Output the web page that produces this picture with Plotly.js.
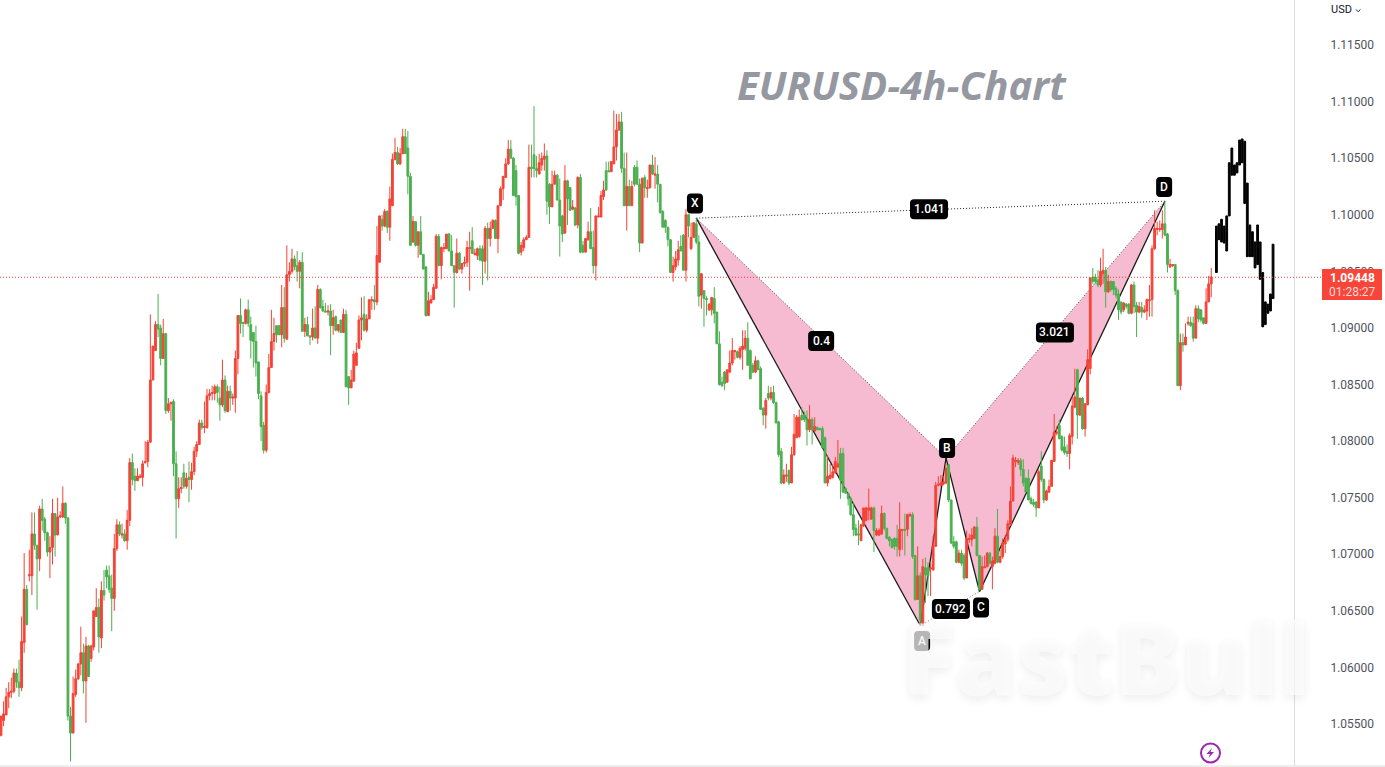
<!DOCTYPE html>
<html>
<head>
<meta charset="utf-8">
<script src="https://cdn.plot.ly/plotly-3.0.1.min.js"></script>
<style>html,body{margin:0;padding:0;background:#fff;overflow:hidden}#c{width:1385px;height:767px}</style>
</head>
<body>
<div id="c"></div>
<script>
// Prices in units of 0.0001 (EURUSD 4h, one entry per bar)
const opens = [
10540,10553,10558,10574,10578,10579,10595,10587,10582,10622,
10669,10681,10681,10718,10708,10696,10740,10731,10719,10702,
10706,10736,10717,10733,10733,10745,10732,10557,10542,10576,
10590,10603,10613,10588,10619,10608,10618,10645,10653,10626,
10668,10686,10681,10670,10661,10705,10726,10717,10718,10712,
10730,10781,10769,10765,10768,10768,10781,10782,
10799,10854,10880,10903,10900,10873,10895,10827,10833,10835,
10780,10749,10758,10772,10760,10768,10766,10773,10791,10797,
10816,10812,10812,10840,10842,10842,10848,10838,10832,10854,
10826,10844,10838,10838,10873,10911,10905,10904,10916,10903,
10896,10888,10870,10840,10814,10792,10843,10865,10888,10902,
10902,10894,10918,10890,10947,10950,10961,10955,10950,10958,
10897,10903,10893,10892,10900,10891,10934,10919,10915,10914,
10915,10902,10910,10898,10907,10896,10912,10857,10847,10853,
10867,10882,10907,10912,10898,10908,10924,10925,10923,10958,
10996,10990,11003,10989,11008,11049,11055,11045,11054,11069,
11059,11034,10976,10994,10973,10985,10965,10954,10911,10922,
10925,10935,10981,10955,10970,10970,10983,10968,10955,10949,
10966,10952,10957,10958,10970,10977,10965,10964,10970,10970,
10959,10988,10979,10988,10995,10979,11008,11023,11033,11045,
11058,11050,11039,11017,10967,10971,10978,10980,11042,11053,
11041,11036,11044,11049,11052,11027,11007,11027,11035,11013,
10999,10984,11030,11024,11005,11006,10991,11033,10973,10967,
10978,10985,10971,10955,10998,10998,11016,11039,11039,11038,
11045,11060,11075,11082,11041,11008,11025,11008,11042,11042,
11027,10975,11033,11023,11024,11044,11035,11036,11027,11003,
10995,10989,10978,10949,10954,10960,10972,10982,10951,11000,
10970,10980,10992,10976,10929,10933,10926,10916,10916,10926,
10914,10886,10852,10861,10852,10861,10869,10879,10879,10874,
10881,10882,10891,10880,10867,10861,10871,10864,10829,10823,
10842,10838,10843,10834,10817,10791,10763,10769,10774,10763,
10788,10803,10804,10823,10823,10820,10810,10819,10809,10812,
10811,10811,10803,10763,10767,10768,10772,10777,10789,10789,
10758,10754,10749,10735,10723,10718,10712,10725,10730,10739,
10731,10741,10717,10717,10718,10736,10723,10715,10713,10714,
10714,10704,10721,10722,10722,10734,10735,10699,10660,10681,
10637,10688,10688,10687,10686,10707,10761,10761,10762,10763,
10779,10748,10711,10711,10693,10701,10699,10679,10713,10713,
10714,10724,10699,10669,10688,10689,10701,10689,10692,10716,
10693,10698,10709,10713,10726,10747,10782,10781,10783,10775,
10767,10767,10749,10746,10746,10741,10778,10766,10748,10755,
10760,10782,10807,10814,10804,10795,10791,10789,10804,10830,
10863,10823,10838,10811,10832,10864,10945,10945,10942,10938,
10948,10951,10932,10941,10941,10935,10930,10923,10916,10921,
10921,10913,10938,10920,10914,10918,10914,10915,10924,10925,
10970,10987,10987,10987,10992,10983,10954,10955,10956,10933,
10849,10887,10885,10904,10905,10904,10891,10917,10916,10909,
10904,10923,10939];
const highs = [
10557,10570,10582,10587,10591,10599,10599,10607,10645,10701,
10673,10704,10737,10737,10708,10743,10749,10733,10720,10716,
10749,10736,10750,10738,10760,10746,10733,10565,10592,10598,
10604,10636,10621,10627,10620,10620,10650,10670,10661,10676,
10686,10690,10690,10682,10718,10731,10729,10727,10722,10739,
10785,10789,10776,10776,10771,10783,10800,10801,
10912,10884,10906,10930,10903,10908,10895,10838,10835,10837,
10791,10768,10768,10780,10772,10782,10781,10795,10800,10819,
10819,10835,10846,10846,10849,10850,10850,10848,10872,10858,
10849,10849,10842,10880,10911,10926,10905,10917,10925,10910,
10896,10902,10870,10844,10817,10850,10877,10916,10909,10902,
10902,10938,10936,10973,10958,10970,10964,10968,10960,10967,
10909,10910,10893,10917,10919,10938,10935,10925,10922,10920,
10921,10916,10911,10903,10907,10917,10916,10857,10863,10880,
10887,10911,10927,10928,10912,10925,10928,10938,10990,10999,
11000,11005,11004,11025,11054,11068,11060,11059,11076,11076,
11074,11037,10999,10994,10985,10999,10965,10954,10932,10929,
10939,10983,10983,10972,10975,10983,10984,10982,10955,10979,
10967,10957,10963,10977,10985,10989,10970,10971,10973,10973,
10990,10993,10994,10996,10996,11008,11025,11034,11050,11066,
11066,11051,11044,11017,10976,10980,10982,11062,11062,11096,
11052,11054,11055,11063,11057,11028,11039,11039,11036,11032,
11000,11044,11031,11024,11013,11007,11034,11036,10977,10979,
10994,11006,10986,10999,11007,11021,11030,11047,11047,11047,
11092,11089,11089,11091,11055,11055,11031,11030,11044,11048,
11032,11033,11035,11031,11044,11053,11051,11044,11027,11004,
10996,10989,10978,10963,10968,10977,10982,10983,11005,11001,
10993,10993,10997,10982,10948,10933,10928,10922,10927,10936,
10914,10897,10857,10862,10863,10880,10891,10880,10880,10884,
10898,10898,10905,10881,10869,10875,10872,10866,10830,10838,
10849,10848,10849,10835,10818,10794,10775,10780,10775,10795,
10824,10823,10828,10830,10826,10827,10832,10821,10821,10813,
10812,10813,10804,10787,10780,10779,10786,10801,10794,10794,
10759,10754,10751,10746,10727,10730,10727,10741,10742,10758,
10742,10742,10723,10723,10743,10737,10723,10716,10714,10715,
10726,10746,10722,10736,10736,10737,10737,10699,10707,10684,
10696,10697,10693,10693,10716,10764,10769,10770,10769,10780,
10780,10748,10716,10712,10704,10704,10701,10721,10718,10723,
10725,10733,10699,10698,10699,10702,10702,10698,10723,10740,
10704,10714,10717,10730,10760,10788,10786,10785,10785,10784,
10768,10775,10751,10749,10747,10775,10791,10767,10757,10766,
10783,10824,10813,10819,10805,10804,10797,10807,10839,10864,
10864,10838,10839,10833,10881,10945,10953,10948,10951,10962,
10970,10954,10947,10942,10941,10937,10934,10923,10923,10922,
10922,10939,10941,10923,10923,10923,10920,10926,10938,10973,
11004,10994,10995,11004,11012,10984,10961,10956,10956,10934,
10895,10895,10904,10910,10910,10910,10920,10920,10916,10909,
10935,10946,10953];
const lows = [
10539,10548,10558,10564,10573,10577,10582,10574,10579,10613,
10637,10676,10664,10704,10651,10685,10721,10712,10698,10679,
10691,10698,10717,10732,10732,10727,10553,10517,10542,10574,
10589,10593,10577,10551,10592,10605,10615,10645,10613,10617,
10659,10670,10666,10632,10650,10703,10716,10714,10711,10704,
10725,10761,10756,10765,10767,10760,10780,10777,
10799,10854,10880,10892,10867,10873,10824,10825,10818,10769,
10714,10741,10754,10758,10758,10746,10757,10770,10786,10797,
10810,10807,10811,10836,10836,10836,10834,10818,10830,10825,
10826,10827,10832,10825,10859,10895,10892,10903,10901,10873,
10865,10857,10837,10800,10789,10790,10842,10865,10880,10887,
10894,10883,10887,10890,10941,10948,10951,10941,10935,10897,
10892,10893,10885,10889,10891,10886,10917,10914,10914,10911,
10876,10894,10897,10896,10896,10896,10848,10832,10847,10853,
10867,10882,10889,10897,10896,10908,10916,10916,10920,10958,
10986,10989,10984,10977,11008,11048,11044,11044,11054,11054,
11018,10973,10975,10972,10962,10965,10952,10910,10911,10922,
10925,10935,10955,10943,10967,10970,10968,10955,10918,10948,
10951,10948,10954,10954,10933,10966,10964,10960,10959,10938,
10948,10942,10972,10988,10979,10966,11008,11013,11033,11044,
11050,11017,11008,10965,10964,10968,10978,10980,11033,11033,
11033,11036,11039,11039,11000,10992,11007,11027,11013,10963,
10976,10983,10991,11004,11004,10990,10988,10966,10966,10967,
10977,10970,10948,10942,10998,10998,11013,11021,11038,11038,
11045,11048,11074,11037,11008,10986,11008,11008,11025,11027,
10967,10975,11015,11015,11023,11035,11023,11011,11001,10989,
10984,10972,10949,10941,10951,10955,10968,10951,10941,10980,
10969,10980,10974,10919,10917,10901,10911,10915,10911,10904,
10886,10849,10848,10845,10852,10860,10867,10872,10873,10872,
10863,10880,10867,10855,10860,10860,10863,10828,10814,10811,
10836,10836,10833,10816,10786,10762,10762,10764,10761,10763,
10787,10803,10803,10818,10817,10796,10808,10797,10808,10810,
10810,10794,10763,10760,10766,10767,10771,10777,10749,10754,
10754,10743,10734,10716,10716,10708,10712,10724,10729,10730,
10731,10702,10716,10716,10717,10721,10713,10707,10705,10704,
10698,10698,10704,10699,10716,10733,10696,10659,10660,10638,
10637,10657,10663,10663,10686,10707,10760,10760,10761,10762,
10746,10709,10705,10692,10692,10690,10677,10679,10710,10707,
10714,10698,10668,10669,10688,10689,10691,10669,10691,10692,
10692,10696,10701,10711,10725,10747,10777,10779,10769,10760,
10755,10748,10744,10742,10733,10741,10764,10745,10747,10754,
10760,10782,10805,10802,10791,10788,10786,10775,10797,10829,
10802,10822,10810,10804,10832,10859,10939,10939,10936,10936,
10939,10918,10931,10932,10929,10926,10907,10912,10914,10917,
10912,10912,10913,10892,10913,10909,10913,10907,10910,10910,
10969,10982,10985,10979,10981,10949,10953,10954,10929,10849,
10845,10879,10885,10902,10901,10888,10891,10905,10905,10903,
10904,10923,10927];
const closes = [
10557,10559,10574,10578,10579,10595,10587,10582,10623,10669,
10638,10682,10718,10708,10696,10740,10730,10719,10702,10706,
10736,10717,10733,10734,10745,10732,10557,10542,10577,10590,
10603,10613,10588,10619,10592,10619,10650,10653,10627,10668,
10664,10680,10669,10661,10705,10726,10718,10718,10712,10730,
10781,10766,10765,10769,10769,10780,10782,10799,
10854,10884,10903,10899,10873,10895,10827,10833,10834,10780,
10749,10758,10759,10760,10767,10766,10773,10791,10797,10816,
10812,10813,10840,10842,10843,10848,10843,10832,10854,10827,
10844,10838,10839,10873,10911,10904,10904,10916,10904,10889,
10888,10869,10842,10813,10792,10843,10865,10888,10895,10894,
10894,10918,10891,10947,10950,10961,10954,10950,10958,10897,
10903,10893,10892,10900,10891,10934,10918,10915,10914,10915,
10902,10909,10898,10903,10896,10912,10848,10847,10854,10877,
10878,10907,10909,10898,10908,10925,10925,10923,10964,10999,
10990,11003,10989,11014,11049,11055,11045,11054,11069,11054,
11034,10973,10994,10973,10985,10965,10952,10911,10924,10925,
10936,10981,10955,10971,10971,10983,10968,10955,10949,10966,
10952,10957,10958,10971,10971,10966,10966,10970,10960,10959,
10988,10979,10988,10995,10979,11008,11023,11034,11045,11058,
11050,11017,11016,10966,10973,10978,10980,11042,11041,11041,
11039,11046,11050,11052,11012,11007,11027,11035,11013,10990,
10983,11030,11014,11004,11007,10991,11033,10967,10967,10979,
10985,10970,10955,10999,10999,11017,11022,11022,11038,11047,
11060,11075,11082,11041,11008,11025,11008,11025,11027,11027,
10975,11032,11024,11024,11044,11036,11036,11027,11002,10989,
10989,10978,10949,10955,10961,10969,10968,10951,11000,10990,
10980,10993,10976,10928,10948,10926,10925,10921,10927,10913,
10886,10850,10849,10851,10863,10869,10880,10880,10874,10882,
10884,10891,10867,10855,10861,10871,10863,10828,10823,10836,
10838,10843,10834,10816,10788,10763,10770,10770,10763,10788,
10806,10821,10821,10819,10819,10810,10819,10810,10813,10810,
10810,10794,10763,10769,10770,10773,10782,10780,10766,10755,
10754,10749,10735,10722,10717,10717,10726,10741,10741,10741,
10741,10721,10721,10721,10736,10723,10714,10712,10706,10707,
10707,10722,10722,10721,10735,10735,10698,10660,10681,10642,
10689,10682,10681,10688,10708,10761,10762,10763,10764,10776,
10748,10710,10707,10693,10701,10692,10679,10714,10714,10717,
10724,10699,10669,10689,10689,10701,10692,10694,10716,10693,
10698,10710,10713,10727,10747,10785,10783,10783,10775,10763,
10755,10748,10745,10744,10741,10773,10766,10748,10756,10760,
10783,10808,10808,10802,10792,10790,10789,10805,10831,10839,
10823,10838,10811,10833,10872,10944,10941,10941,10938,10950,
10951,10932,10941,10934,10934,10929,10916,10914,10922,10919,
10913,10938,10919,10914,10919,10914,10916,10925,10925,10970,
10988,10988,10988,10992,10982,10956,10956,10956,10933,10849,
10887,10885,10892,10905,10902,10891,10917,10908,10907,10904,
10923,10939,10945];

// Black projected bars after the last candle
const ghostStart = 472;
const ghostTops = [10990,10992,10996,10990,10999,11046,11059,11044,11046,11066,11067,11065,11028,10991,10985,10976,10991,10976,10949,10923,10921,10930,10974];
const ghostBottoms = [10949,10978,10976,10975,10968,10999,11035,11035,11037,11044,11046,11010,10963,10963,10963,10953,10956,10943,10901,10903,10913,10915,10926];

// Harmonic pattern pivots X A B C D
const pivotIdx = [270,357,367,380,452];
const pivotPrice = [10997,10637,10785,10667,11012];

// Pattern tags
const tagText = ['X','1.041','0.4','B','0.792','C','A','3.021','D'];
const tagIdx = [269.5,360.4,318.5,367.4,368.9,380.6,357.7,409.3,451.7];
const tagPrice = [11010,11005,10888.5,10794,10651.6,10653,10623.4,10896,11024.5];
const tagWidth = [16,38,26,16,38,16,16,38,16];

const lastPrice = 1.09448;
const countdown = '01:28:27';
const axisTicks = [1.055,1.06,1.065,1.07,1.075,1.08,1.085,1.09,1.095,1.10,1.105,1.11,1.115];

const W = 1385, H = 767, PW = 1294, PH = 766;
const BAR0 = 1, BAR = 2.575;
const toPrice = a => a.map(v => v / 10000);
const idx = a => a.map((_, i) => i);
const px = v => v / PW;
const py = v => 1 - v / PH;

const RED = '#f44336', GREEN = '#4caf50';
const P = i => [pivotIdx[i], pivotPrice[i] / 10000];
const seg = (a, b, color, width, dash) => ({
  type: 'line', layer: 'below', xref: 'x', yref: 'y',
  x0: P(a)[0], y0: P(a)[1], x1: P(b)[0], y1: P(b)[1],
  line: {color, width, dash}
});
const tri = (a, b, c) => ({
  type: 'path', layer: 'below', xref: 'x', yref: 'y',
  path: `M ${P(a)[0]} ${P(a)[1]} L ${P(b)[0]} ${P(b)[1]} L ${P(c)[0]} ${P(c)[1]} Z`,
  fillcolor: '#f6bbd0', line: {width: 0}
});
const round = (w, h, r) => {
  const a = w / 2, b = h / 2;
  return `M ${-a + r} ${-b} L ${a - r} ${-b} Q ${a} ${-b} ${a} ${-b + r} L ${a} ${b - r} Q ${a} ${b} ${a - r} ${b} L ${-a + r} ${b} Q ${-a} ${b} ${-a} ${b - r} L ${-a} ${-b + r} Q ${-a} ${-b} ${-a + r} ${-b} Z`;
};

const shapes = [
  tri(0, 1, 2), tri(2, 3, 4),
  seg(0, 2, '#444', 1, '1px,2px'), seg(2, 4, '#444', 1, '1px,2px'),
  seg(0, 4, '#222', 1, '1px,2px'), seg(1, 3, '#777', 1, '1px,2px'),
  seg(0, 1, '#1a1a1a', 1.3), seg(1, 2, '#1a1a1a', 1.3),
  seg(2, 3, '#1a1a1a', 1.3), seg(3, 4, '#1a1a1a', 1.3),
  {type: 'line', layer: 'above', xref: 'paper', yref: 'y', x0: 0, x1: px(1322), y0: lastPrice, y1: lastPrice,
   line: {color: RED, width: 1, dash: '1px,2px'}},
  {type: 'rect', layer: 'above', xref: 'paper', yref: 'paper', x0: px(1322), x1: px(1382), y0: py(269), y1: py(300),
   fillcolor: '#f7453a', line: {width: 0}},
  {type: 'line', layer: 'above', xref: 'paper', yref: 'paper', x0: 0, x1: px(W), y0: py(766), y1: py(766),
   line: {color: '#dedede', width: 1}},
  {type: 'path', layer: 'above', xref: 'paper', yref: 'paper',
   path: `M ${px(1356)} ${py(9.5)} L ${px(1358.2)} ${py(11.7)} L ${px(1360.4)} ${py(9.5)}`,
   line: {color: '#131722', width: 1}},
  {type: 'circle', layer: 'above', xref: 'paper', yref: 'paper',
   x0: px(1201), x1: px(1220), y0: py(743.5), y1: py(762.5),
   line: {color: '#9c27b0', width: 2}, fillcolor: '#fff'},
  {type: 'path', layer: 'above', xref: 'paper', yref: 'paper',
   path: `M ${px(1212)} ${py(748)} L ${px(1206.5)} ${py(754)} L ${px(1210)} ${py(754)} L ${px(1208.5)} ${py(758)} L ${px(1214)} ${py(752)} L ${px(1210.5)} ${py(752)} Z`,
   fillcolor: '#9c27b0', line: {width: 0}}
];
tagText.forEach((t, i) => shapes.push({
  type: 'path', layer: 'above', xref: 'x', yref: 'y', xsizemode: 'pixel', ysizemode: 'pixel',
  xanchor: tagIdx[i], yanchor: tagPrice[i] / 10000, path: round(tagWidth[i], 20, 4),
  fillcolor: '#000', line: {width: 0}
}));

const annotations = tagText.map((t, i) => ({
  x: tagIdx[i], y: tagPrice[i] / 10000, xref: 'x', yref: 'y', text: t, showarrow: false,
  font: {family: 'Roboto', size: 12, color: '#fff', weight: 500}
}));
annotations.push(
  {xref: 'paper', yref: 'paper', x: px(902), y: py(85), xanchor: 'center', yanchor: 'middle', showarrow: false,
   text: 'EURUSD-4h-Chart', font: {family: 'Open Sans', size: 40.2, color: '#9598a1', weight: 700, style: 'italic'}},
  {xref: 'paper', yref: 'paper', x: px(1341), y: py(10), xanchor: 'center', yanchor: 'middle', showarrow: false,
   text: 'USD', font: {family: 'Roboto', size: 11, color: '#131722'}},
  {xref: 'paper', yref: 'paper', x: px(1352), y: py(278), xanchor: 'center', yanchor: 'middle', showarrow: false,
   text: lastPrice.toFixed(5), font: {family: 'Roboto', size: 12, color: '#fff', weight: 700}},
  {xref: 'paper', yref: 'paper', x: px(1352), y: py(292), xanchor: 'center', yanchor: 'middle', showarrow: false,
   text: countdown, font: {family: 'Roboto', size: 12, color: '#fcd9d6'}},
  {xref: 'paper', yref: 'paper', x: px(1106), y: py(656), xanchor: 'center', yanchor: 'middle', showarrow: false,
   text: 'FastBull', font: {family: 'Open Sans', size: 99, color: 'rgba(252,252,252,0.72)', weight: 800,
   shadow: '0 4px 10px rgba(0,0,0,0.09)'}}
);

const traces = [
  {type: 'candlestick', x: idx(opens), open: toPrice(opens), high: toPrice(highs), low: toPrice(lows), close: toPrice(closes),
   increasing: {line: {color: RED, width: 1}, fillcolor: RED},
   decreasing: {line: {color: GREEN, width: 1}, fillcolor: GREEN},
   whiskerwidth: 0, hoverinfo: 'skip', showlegend: false},
  {type: 'candlestick', x: ghostTops.map((_, i) => ghostStart + i),
   open: toPrice(ghostTops), high: toPrice(ghostTops), low: toPrice(ghostBottoms), close: toPrice(ghostBottoms),
   increasing: {line: {color: '#000', width: 1}, fillcolor: '#000'},
   decreasing: {line: {color: '#000', width: 1}, fillcolor: '#000'},
   whiskerwidth: 0, hoverinfo: 'skip', showlegend: false}
];

const layout = {
  width: W, height: H,
  margin: {l: 0, r: W - PW, t: 0, b: H - PH, pad: 0},
  paper_bgcolor: '#fff', plot_bgcolor: '#fff',
  showlegend: false, hovermode: false, dragmode: false,
  boxgap: 0, boxmode: 'overlay',
  xaxis: {type: 'linear', range: [(0 - BAR0) / BAR, (PW - BAR0) / BAR], rangeslider: {visible: false},
          showgrid: false, zeroline: false, showticklabels: false, ticks: '', showline: false},
  yaxis: {side: 'right', range: [1.05129, 1.11898], tickmode: 'array', tickvals: axisTicks,
          tickformat: '.5f', ticks: '', showgrid: false, zeroline: false,
          showline: true, linecolor: '#dedede', linewidth: 1, ticklabelstandoff: 33,
          tickfont: {family: 'Roboto', size: 12, color: '#50535e'}},
  shapes, annotations
};
Plotly.newPlot('c', traces, layout, {staticPlot: true, displayModeBar: false});
</script>
</body>
</html>
